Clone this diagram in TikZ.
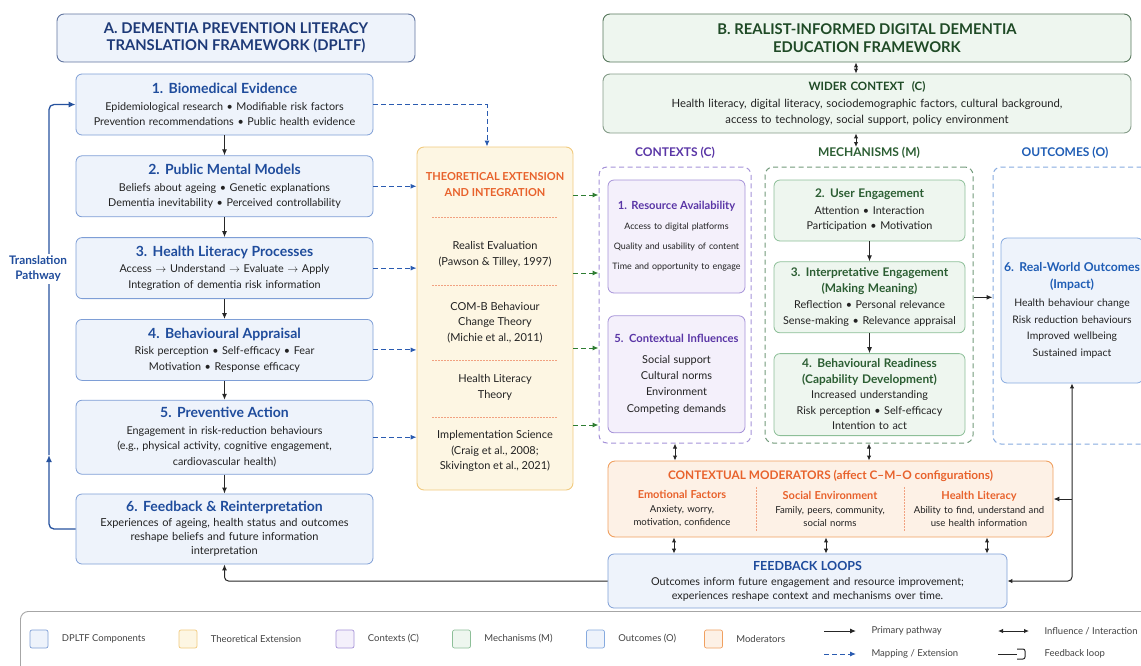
\documentclass[tikz,border=0pt]{standalone}
\usepackage{fontspec}
\setmainfont{Lato}
\usepackage{tikz}
\usetikzlibrary{positioning,arrows.meta}
\usepackage{xcolor}

\definecolor{dpfill}{HTML}{EEF3FB}
\definecolor{dpline}{HTML}{7E9ED6}
\definecolor{dptitle}{HTML}{1F4C9C}
\definecolor{navy}{HTML}{1E3A78}
\definecolor{thfill}{HTML}{FDF6E3}
\definecolor{thline}{HTML}{F1CA7E}
\definecolor{orng}{HTML}{E8622C}
\definecolor{ctfill}{HTML}{F4F0FB}
\definecolor{ctline}{HTML}{A592D8}
\definecolor{cttitle}{HTML}{5A36A6}
\definecolor{mefill}{HTML}{EEF6EF}
\definecolor{meline}{HTML}{8DBF98}
\definecolor{metitle}{HTML}{2C5E33}
\definecolor{dkgreen}{HTML}{1F4A26}
\definecolor{mapgreen}{HTML}{2E7D32}
\definecolor{mapblue}{HTML}{2A5BB0}
\definecolor{ouline}{HTML}{86AADF}
\definecolor{outitle}{HTML}{1F5DB5}
\definecolor{mofill}{HTML}{FDF1E6}
\definecolor{moline}{HTML}{F0A060}
\definecolor{bodytxt}{HTML}{222222}

% coloured bold heading inside a box: colour, size, text
\newcommand{\hd}[3]{{\color{#1}\bfseries\fontsize{#2}{15}\selectfont #3}}

\begin{document}
\begin{tikzpicture}[x=1pt, y=-1pt,
    font=\fontsize{10.8}{15.5}\selectfont, text=bodytxt,
    hdr/.style={draw=#1, rounded corners=7pt, line width=0.9pt, align=center, font=\fontsize{14.8}{17.5}\selectfont\bfseries},
    dbox/.style={draw=dpline, fill=dpfill, line width=0.8pt, rounded corners=6pt, text width=293pt, inner sep=2pt, align=center, minimum height=61pt},
    cbox/.style={draw=ctline, fill=ctfill, line width=0.8pt, rounded corners=6pt, text width=133pt, inner sep=2pt, align=center},
    mbox/.style={draw=meline, fill=mefill, line width=0.8pt, rounded corners=6pt, text width=187pt, inner sep=2pt, align=center},
    dashbox/.style={draw=#1, dash pattern=on 5pt off 3.5pt, rounded corners=8pt, line width=1pt},
    ttxt/.style={align=center, font=\fontsize{11}{15.5}\selectfont},
    collab/.style={font=\fontsize{12}{14}\selectfont\bfseries},
    mcol/.style={align=center, text width=146pt, font=\fontsize{9.6}{13.5}\selectfont},
    prim/.style={-{Latex[length=6pt,width=5pt]}, line width=1pt, draw=black!85},
    inter/.style={{Latex[length=5pt,width=4.5pt]}-{Latex[length=5pt,width=4.5pt]}, line width=1pt, draw=black!85},
    mapb/.style={-{Latex[length=6pt,width=5pt]}, dash pattern=on 5pt off 3pt, line width=1pt, draw=mapblue},
    mapg/.style={-{Latex[length=6pt,width=5pt]}, dash pattern=on 5pt off 3pt, line width=1pt, draw=mapgreen},
    tpath/.style={draw=mapblue!90!black, line width=1.3pt},
    sepline/.style={draw=orng!60, dash pattern=on 1.5pt off 1.5pt, line width=0.9pt},
    lsq/.style={rounded corners=2pt, minimum size=18pt, inner sep=0pt, line width=0.7pt},
    ltxt/.style={anchor=west, font=\fontsize{9.5}{11}\selectfont, text=bodytxt!85}
]
\useasboundingbox (0,0) rectangle (1141,665);

% A: DPLTF column
\node[hdr=navy!70, fill=dpfill, text=navy, minimum width=358pt, minimum height=48pt] (hdrA) at (236,38)
    {A. DEMENTIA PREVENTION LITERACY\\TRANSLATION FRAMEWORK (DPLTF)};
\node[dbox] (b1) at (224.5,104.5) {\hd{dptitle}{14}{1. Biomedical Evidence}\\[1pt]
    Epidemiological research • Modifiable risk factors\\ Prevention recommendations • Public health evidence};
\node[dbox, below=20pt of b1] (b2) {\hd{dptitle}{14}{2. Public Mental Models}\\[1pt]
    Beliefs about ageing • Genetic explanations\\ Dementia inevitability • Perceived controllability};
\node[dbox, below=20pt of b2] (b3) {\hd{dptitle}{14}{3. Health Literacy Processes}\\[1pt]
    Access $\rightarrow$ Understand $\rightarrow$ Evaluate $\rightarrow$ Apply\\ Integration of dementia risk information};
\node[dbox, below=20pt of b3] (b4) {\hd{dptitle}{14}{4. Behavioural Appraisal}\\[1pt]
    Risk perception • Self-efficacy • Fear\\ Motivation • Response efficacy};
\node[dbox, below=19pt of b4, minimum height=74pt] (b5) {\hd{dptitle}{14}{5. Preventive Action}\\[1pt]
    Engagement in risk-reduction behaviours\\ (e.g., physical activity, cognitive engagement,\\ cardiovascular health)};
\node[dbox, below=19pt of b5, minimum height=70pt, font=\fontsize{11}{14}\selectfont] (b6) {\hd{dptitle}{14}{6. Feedback \& Reinterpretation}\\[1pt]
    Experiences of ageing, health status and outcomes\\ reshape beliefs and future information\\ interpretation};

\draw[prim] (b1) -- (b2);
\draw[prim] (b2) -- (b3);
\draw[prim] (b3) -- (b4);
\draw[prim] (b4) -- (b5);
\draw[prim] (b5) -- (b6);

% translation pathway
\coordinate (tpmid) at (49,455);
\draw[tpath, -{Latex[length=7pt,width=6pt]}, rounded corners=5pt] (b6.west) -| (tpmid);
\draw[tpath, -{Latex[length=7pt,width=6pt]}, rounded corners=5pt] (tpmid) |- (b1.west);
\node[font=\fontsize{11.8}{15}\selectfont\bfseries, text=dptitle, fill=white, align=center, inner sep=2pt] (tplab) at (38,269) {Translation\\Pathway};

% theoretical extension
\node[draw=thline, fill=thfill, rounded corners=7pt, line width=0.9pt, minimum width=156pt, minimum height=343pt] (theo) at (495,318.5) {};
\node[ttxt, text=orng, font=\fontsize{11}{16}\selectfont\bfseries] (th0) at (495,185) {THEORETICAL EXTENSION\\AND INTEGRATION};
\node[ttxt] (th1) at (495,254.5) {Realist Evaluation\\(Pawson \& Tilley, 1997)};
\node[ttxt] (th2) at (495,322.5) {COM-B Behaviour\\Change Theory\\(Michie et al., 2011)};
\node[ttxt] (th3) at (495,387.5) {Health Literacy\\Theory};
\node[ttxt] (th4) at (495,451) {Implementation Science\\(Craig et al., 2008;\\Skivington et al., 2021)};
\foreach \yy in {217,285,360,417}
    \draw[sepline] (432,\yy) -- (558,\yy);

\draw[mapb] (b1.east) -| ([xshift=-8pt]theo.north);
\foreach \n in {b2,b3,b4,b5}
    \draw[mapb] (\n.east) -- (theo.west |- \n.east);

% B: realist framework
\node[hdr=dkgreen!75, fill=mefill, text=dkgreen, minimum width=528pt, minimum height=48pt] (hdrB) at (867,38)
    {B. REALIST-INFORMED DIGITAL DEMENTIA\\EDUCATION FRAMEWORK};
\node[draw=dkgreen!55, fill=mefill, rounded corners=7pt, line width=0.9pt, minimum width=528pt, minimum height=59pt, text width=522pt, inner sep=3pt, align=center, font=\fontsize{11.3}{16}\selectfont] (wider) at (867,103.5)
    {\hd{dkgreen}{11.5}{WIDER CONTEXT\ \ (C)}\\[1pt]
    Health literacy, digital literacy, sociodemographic factors, cultural background,\\ access to technology, social support, policy environment};
\coordinate (mtop) at (856,147);
\draw[inter] (hdrB.south -| mtop) -- (wider.north -| mtop);
\draw[inter] (wider.south -| mtop) -- (mtop);

% contexts
\node[dashbox=ctline, minimum width=152pt, minimum height=276pt] (ctxbox) at (675,305) {};
\node[collab, text=cttitle, above=5pt of ctxbox] (ctxlab) {CONTEXTS (C)};
\node[cbox, minimum height=113pt, font=\fontsize{8.9}{20}\selectfont] (ra) at (676.5,236.5) {\hd{cttitle}{11.2}{1. Resource Availability}\\
    Access to digital platforms\\ Quality and usability of content\\ Time and opportunity to engage};
\node[cbox, below=22pt of ra, minimum height=117pt, font=\fontsize{10.9}{16.3}\selectfont] (ci) {\hd{cttitle}{11.2}{5. Contextual Influences}\\[4pt]
    Social support\\ Cultural norms\\ Environment\\ Competing demands};

\foreach \yy in {195,273,348,425}
    \draw[mapg] (theo.east |- 0,\yy) -- (ctxbox.west |- 0,\yy);

% mechanisms
\node[dashbox=meline!80!black, minimum width=208pt, minimum height=276pt] (mechbox) at (869,305) {};
\node[collab, text=metitle, above=5pt of mechbox] (mechlab) {MECHANISMS (M)};
\node[mbox, minimum height=61pt] (ue) at (869.5,210.5) {\hd{metitle}{11.9}{2. User Engagement}\\[1pt]
    Attention • Interaction\\ Participation • Motivation};
\node[mbox, below=20pt of ue, minimum height=71pt] (ie) {\hd{metitle}{11.9}{3. Interpretative Engagement\\(Making Meaning)}\\[1pt]
    Reflection • Personal relevance\\ Sense-making • Relevance appraisal};
\node[mbox, below=20pt of ie, minimum height=82pt] (br) {\hd{metitle}{11.9}{4. Behavioural Readiness\\(Capability Development)}\\
    Increased understanding\\ Risk perception • Self-efficacy\\ Intention to act};
\draw[prim] (ue) -- (ie);
\draw[prim] (ie) -- (br);

% outcomes
\node[dashbox=ouline, minimum width=165pt, minimum height=277pt] (outbox) at (1075.5,305.5) {};
\node[collab, text=outitle] (outlab) at (1065,153) {OUTCOMES (O)};
\node[draw=ouline, fill=dpfill, line width=0.8pt, rounded corners=6pt, minimum width=142pt, text width=140pt, inner sep=1pt, minimum height=145pt, align=center, font=\fontsize{10.4}{16.5}\selectfont] (rw) at (1072,310.5)
    {\hd{outitle}{12.2}{6. Real-World Outcomes\\(Impact)}\\[2pt]
    Health behaviour change\\ Risk reduction behaviours\\ Improved wellbeing\\ Sustained impact};
\draw[prim] (mechbox.east |- ie) -- (outbox.west |- ie);

% moderators
\node[draw=moline, fill=mofill, rounded corners=7pt, line width=0.9pt, minimum width=445pt, minimum height=76pt] (mod) at (830.5,499) {};
\node[text=orng, font=\fontsize{11.8}{14}\selectfont\bfseries] (modt) at (830.5,476) {CONTEXTUAL MODERATORS (affect C–M–O configurations)};
\node[mcol] (mc1) at (682,509) {\hd{orng}{11}{Emotional Factors}\\ Anxiety, worry,\\ motivation, confidence};
\node[mcol] (mc2) at (830,509) {\hd{orng}{11}{Social Environment}\\ Family, peers, community,\\ social norms};
\node[mcol] (mc3) at (979,509) {\hd{orng}{11}{Health Literacy}\\ Ability to find, understand and\\ use health information};
\draw[sepline] (756,487) -- (756,531);
\draw[sepline] (904,487) -- (904,531);

\draw[inter] (ctxbox.south) -- (mod.north -| ctxbox.south);
\draw[inter] (mechbox.south) -- (mod.north -| mechbox.south);

% feedback loops
\node[draw=dpline, fill=dpfill, line width=0.8pt, rounded corners=6pt, minimum width=399pt, minimum height=54pt, text width=393pt, inner sep=3pt, align=center, font=\fontsize{10.8}{14}\selectfont] (fbl) at (807.5,581)
    {\hd{dptitle}{12.5}{FEEDBACK LOOPS}\\[1pt]
    Outcomes inform future engagement and resource improvement;\\ experiences reshape context and mechanisms over time.};
\foreach \xx in {674,826,987}
    \draw[inter] (mod.south -| \xx,0) -- (fbl.north -| \xx,0);

\draw[inter, rounded corners=4pt] (rw.south) |- (fbl.east);
\draw[prim] (rw.south |- mod.east) -- (mod.east);
\draw[prim, rounded corners=4pt] (fbl.west) -| (b6.south);

% legend
\node[draw=gray!70, fill=white, rounded corners=8pt, line width=0.9pt, minimum width=1160pt, minimum height=80pt, anchor=north west] (legend) at (20,611) {};
\node[lsq, draw=dpline, fill=dpfill] (lg1) at (39,639) {};
\node[ltxt, right=10pt of lg1] (lt1) {DPLTF Components};
\node[lsq, draw=thline, fill=thfill] (lg2) at (188,639) {};
\node[ltxt, right=10pt of lg2] (lt2) {Theoretical Extension};
\node[lsq, draw=ctline, fill=ctfill] (lg3) at (345,639) {};
\node[ltxt, right=10pt of lg3] (lt3) {Contexts (C)};
\node[lsq, draw=meline, fill=mefill] (lg4) at (461.5,639) {};
\node[ltxt, right=10pt of lg4] (lt4) {Mechanisms (M)};
\node[lsq, draw=ouline, fill=dpfill] (lg5) at (595.5,639) {};
\node[ltxt, right=10pt of lg5] (lt5) {Outcomes (O)};
\node[lsq, draw=moline, fill=mofill] (lg6) at (713.5,639) {};
\node[ltxt, right=10pt of lg6] (lt6) {Moderators};

\node[ltxt] (lt7) at (868,631) {Primary pathway};
\node[ltxt] (lt8) at (868,654) {Mapping / Extension};
\node[ltxt] (lt9) at (1041,631) {Influence / Interaction};
\node[ltxt] (lt10) at (1041,654) {Feedback loop};
\coordinate (la7) at (824,631);
\coordinate (la8) at (824,654);
\coordinate (la9) at (998,631);
\coordinate (la10) at (998,654);
\draw[prim] (la7) -- ([xshift=-12pt]lt7.west);
\draw[mapb] (la8) -- ([xshift=-12pt]lt8.west);
\draw[inter] (la9) -- ([xshift=-12pt]lt9.west);
\draw[line width=1pt, draw=black!85] (la10) -- ([xshift=-24pt]lt10.west);
\draw[line width=1pt, draw=black!85, rounded corners=2pt]
    ([xshift=-24pt,yshift=5pt]lt10.west) -- ([xshift=-16pt,yshift=5pt]lt10.west)
    -- ([xshift=-16pt,yshift=-5pt]lt10.west) -- ([xshift=-24pt,yshift=-5pt]lt10.west);
\end{tikzpicture}
\end{document}
